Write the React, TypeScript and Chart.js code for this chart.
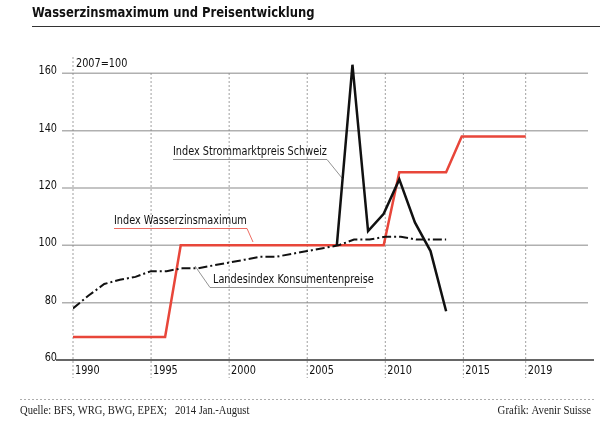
import React, { useEffect, useRef } from "react";
import { Chart, registerables } from "chart.js";
Chart.register(...registerables);

const wasserX = [1990, 1995.9, 1996.9, 2009.9, 2010.9, 2013.9, 2014.9, 2019];
const wasserY = [68, 68, 100, 100, 125.5, 125.5, 138, 138];
const stromX = [2006.9, 2007.9, 2008.9, 2009.9, 2010.9, 2011.9, 2012.9, 2013.9];
const stromY = [100, 163, 105, 111, 123, 108, 98, 77];
const cpiX = [1990, 1991, 1992, 1993, 1994, 1995, 1996, 1997, 1998, 1999, 2000, 2001, 2002, 2003, 2004, 2005, 2006, 2007, 2008, 2009, 2010, 2011, 2012, 2013, 2013.9];
const cpiY = [78, 82.5, 86.5, 88, 89, 91, 91, 92, 92, 93, 94, 95, 96, 96, 97, 98, 99, 100, 102, 102, 103, 103, 102, 102, 102];
const xTicks = [1990, 1995, 2000, 2005, 2010, 2015, 2019];
const yTicks = [60, 80, 100, 120, 140, 160];

const F = '"DejaVu Sans Condensed", "Liberation Sans Narrow", sans-serif';

function txt(ctx: any, s: string, x: number, y: number, sx: number, align: string) {
  ctx.save();
  ctx.translate(x, y);
  ctx.scale(sx, 1);
  ctx.textAlign = align;
  ctx.fillText(s, 0, 0);
  ctx.restore();
}

const deco = {
  id: "deco",
  beforeDatasetsDraw(chart: any) {
    const { ctx, scales } = chart;
    const xs = scales.x, ys = scales.y;
    ctx.save();
    ctx.strokeStyle = "#b0b0b0";
    ctx.lineWidth = 1.5;
    yTicks.forEach((v) => {
      if (v === 60) return;
      const y = ys.getPixelForValue(v);
      ctx.beginPath(); ctx.moveTo(62, y); ctx.lineTo(588, y); ctx.stroke();
    });
    ctx.strokeStyle = "#888";
    ctx.lineWidth = 0.8;
    ctx.setLineDash([2, 2]);
    xTicks.forEach((v) => {
      const x = xs.getPixelForValue(v);
      ctx.beginPath(); ctx.moveTo(x, v === 1990 ? 57 : 73); ctx.lineTo(x, 378); ctx.stroke();
    });
    ctx.setLineDash([]);
    ctx.strokeStyle = "#333"; ctx.lineWidth = 1.5;
    const yb = ys.getPixelForValue(60);
    ctx.beginPath(); ctx.moveTo(56, yb); ctx.lineTo(594, yb); ctx.stroke();
    ctx.fillStyle = "#111";
    ctx.font = `12px ${F}`;
    ctx.textBaseline = "middle";
    yTicks.forEach((v) => txt(ctx, String(v), 57, ys.getPixelForValue(v) - 2, 0.9, "right"));
    xTicks.forEach((v) => txt(ctx, String(v), xs.getPixelForValue(v) + 2, 371, 0.9, "left"));
    txt(ctx, "2007=100", 76, 64, 0.9, "left");
    ctx.font = `bold 14px ${F}`;
    txt(ctx, "Wasserzinsmaximum und Preisentwicklung", 32, 13, 0.92, "left");
    ctx.strokeStyle = "#333"; ctx.lineWidth = 1;
    ctx.beginPath(); ctx.moveTo(32, 26.5); ctx.lineTo(600, 26.5); ctx.stroke();
    ctx.font = `12px ${F}`;
    txt(ctx, "Index Strommarktpreis Schweiz", 173, 152, 0.9, "left");
    txt(ctx, "Index Wasserzinsmaximum", 114, 221, 0.9, "left");
    txt(ctx, "Landesindex Konsumentenpreise", 213, 280, 0.9, "left");
    ctx.lineWidth = 0.8;
    ctx.strokeStyle = "#777";
    ctx.beginPath(); ctx.moveTo(173, 159.5); ctx.lineTo(327, 159.5); ctx.lineTo(342, 178); ctx.stroke();
    ctx.beginPath(); ctx.moveTo(366, 287.5); ctx.lineTo(210, 287.5); ctx.lineTo(195, 266); ctx.stroke();
    ctx.strokeStyle = "#e8463a";
    ctx.beginPath(); ctx.moveTo(114, 228.5); ctx.lineTo(247, 228.5); ctx.lineTo(253, 242); ctx.stroke();
    ctx.strokeStyle = "#999"; ctx.setLineDash([2, 2]);
    ctx.beginPath(); ctx.moveTo(20, 399.5); ctx.lineTo(596, 399.5); ctx.stroke();
    ctx.setLineDash([]);
    ctx.font = `12px "Liberation Serif", serif`;
    ctx.fillStyle = "#222";
    txt(ctx, "Quelle: BFS, WRG, BWG, EPEX;   2014 Jan.-August", 20, 411, 0.88, "left");
    txt(ctx, "Grafik: Avenir Suisse", 591, 411, 0.9, "right");
    ctx.restore();
  },
};

export default function App() {
  const ref = useRef<HTMLCanvasElement>(null);
  useEffect(() => {
    const chart = new Chart(ref.current!, {
      type: "line",
      data: {
        datasets: [
          {
            data: cpiX.map((x, i) => ({ x, y: cpiY[i] })),
            borderColor: "#111", borderWidth: 2, borderDash: [9, 3, 2, 3],
            pointRadius: 0, tension: 0,
          },
          {
            data: stromX.map((x, i) => ({ x, y: stromY[i] })),
            borderColor: "#111", borderWidth: 2.5, pointRadius: 0, tension: 0,
          },
          {
            data: wasserX.map((x, i) => ({ x, y: wasserY[i] })),
            borderColor: "#e8463a", borderWidth: 2.5, pointRadius: 0, tension: 0,
          },
        ],
      },
      options: {
        animation: false,
        responsive: false,
        layout: { padding: { left: 73, right: 4, top: 59, bottom: 78 } },
        plugins: { legend: { display: false }, tooltip: { enabled: false } },
        scales: {
          x: { type: "linear", min: 1990, max: 2023.5, display: false },
          y: { min: 60, max: 165, display: false },
        },
      },
      plugins: [deco],
    });
    return () => chart.destroy();
  }, []);
  return (
    <canvas ref={ref} width={600} height={438}
      style={{ position: "absolute", left: 0, top: 0, width: 600, height: 438, background: "#fff" }} />
  );
}
